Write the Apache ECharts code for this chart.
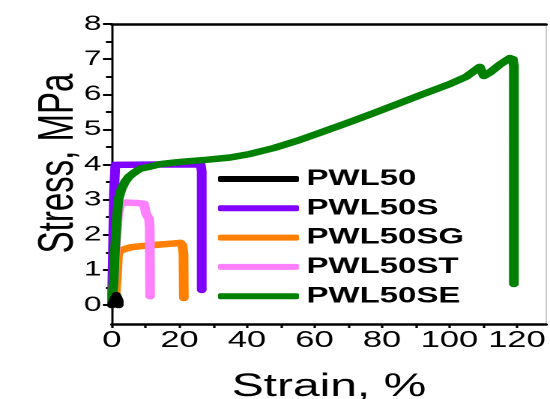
<!DOCTYPE html>
<html>
<head>
<meta charset="utf-8">
<script src="https://cdn.jsdelivr.net/npm/echarts@6/dist/echarts.min.js"></script>
<style>
  html, body { margin: 0; padding: 0; background: #fff; overflow: hidden; }
  #chart { width: 367px; height: 399px; transform-origin: 0 0; transform: scaleX(1.4986); }
</style>
</head>
<body>
<div id="chart"></div>
<script>
// ---- data (strain %, stress MPa) ----
const seriesNames = ['PWL50', 'PWL50S', 'PWL50SG', 'PWL50ST', 'PWL50SE'];
const seriesColors = ['#000000', '#8000ff', '#ff8000', '#ff80ff', '#008000'];

const pwl50X = [0, 0.6, 1.3, 1.8, 2.0, 2.0];
const pwl50Y = [0, 0.15, 0.28, 0.25, 0.12, 0];

const pwl50sX = [0, 0.3, 0.6, 1.0, 14, 26.3, 26.6, 26.6];
const pwl50sY = [0, 1.5, 3.2, 3.99, 4.0, 4.0, 3.8, 0.43];

const pwl50sgX = [0, 1.0, 1.5, 1.8, 2.5, 4, 6, 10, 14, 18, 20.3, 20.9, 21.2, 21.3];
const pwl50sgY = [0, 0.2, 0.9, 1.45, 1.55, 1.6, 1.65, 1.69, 1.72, 1.75, 1.77, 1.7, 1.45, 0.2];

const pwl50stX = [0, 0.6, 1.2, 1.8, 2.5, 4, 6, 8, 9.5, 9.9, 10.1, 10.6, 11.0, 11.2, 11.3];
const pwl50stY = [0, 0.8, 1.8, 2.6, 2.88, 2.92, 2.91, 2.9, 2.88, 2.84, 2.6, 2.52, 2.45, 2.2, 0.25];

const pwl50seX = [0, 0.5, 0.9, 1.4, 1.9, 2.8, 3.9, 5, 6.3, 8.3, 11.3, 14.2, 18, 21, 27.6, 35, 40.9, 48, 55.7, 63, 70.5, 78, 85.3, 92, 100.1, 105, 109, 110.2, 112, 115, 117.9, 118.8, 119.1, 119.1];
const pwl50seY = [0, 0.7, 1.57, 2.4, 3.0, 3.3, 3.51, 3.65, 3.75, 3.88, 3.94, 4.01, 4.05, 4.08, 4.13, 4.2, 4.3, 4.47, 4.70, 4.95, 5.21, 5.48, 5.75, 6.0, 6.29, 6.5, 6.78, 6.52, 6.62, 6.85, 7.03, 7.0, 6.8, 0.6];

const xTickLabels = [0, 20, 40, 60, 80, 100, 120];
const xTicks = [0, 10, 20, 30, 40, 50, 60, 70, 80, 90, 100, 110, 120];
const yTickLabels = [0, 1, 2, 3, 4, 5, 6, 7, 8];
const yMinorTicks = [0.5, 1.5, 2.5, 3.5, 4.5, 5.5, 6.5, 7.5];

const xs = [pwl50X, pwl50sX, pwl50sgX, pwl50stX, pwl50seX];
const ys = [pwl50Y, pwl50sY, pwl50sgY, pwl50stY, pwl50seY];
const zOrder = [5, 1, 2, 3, 4];

function pairs(x, y) { return x.map((v, i) => [v, y[i]]); }

const FONT = 'Liberation Sans, Arial, sans-serif';
const chart = echarts.init(document.getElementById('chart'), null, { renderer: 'canvas', devicePixelRatio: 2 });

const series = seriesNames.map((name, i) => ({
  name: name,
  type: 'line',
  data: pairs(xs[i], ys[i]),
  showSymbol: false,
  symbol: 'none',
  z: zOrder[i],
  xAxisIndex: 0,
  yAxisIndex: 0,
  lineStyle: { color: seriesColors[i], width: 6.5, cap: 'round', join: 'round' },
  itemStyle: { color: seriesColors[i] },
  animation: false
}));

chart.setOption({
  animation: false,
  backgroundColor: '#ffffff',
  grid: { left: 74.7, right: 2.7, top: 24, bottom: 75, containLabel: false, outerBoundsMode: 'none' },
  legend: {
    data: seriesNames,
    orient: 'vertical',
    left: 145.5,
    top: 168,
    padding: 0,
    icon: 'roundRect',
    itemWidth: 54,
    itemHeight: 6,
    itemGap: 7.3,
    textStyle: { fontFamily: FONT, fontSize: 22, fontWeight: 'bold', color: '#000', lineHeight: 20 },
    selectedMode: false
  },
  xAxis: [{
    type: 'value',
    min: 0,
    max: 128.6,
    name: 'Strain, %',
    nameLocation: 'middle',
    nameGap: 47,
    nameTextStyle: { fontFamily: FONT, fontSize: 32, color: '#000' },
    axisLine: { show: true, onZero: false, lineStyle: { color: '#000', width: 2.5 } },
    axisTick: { show: true, inside: false, length: 4, customValues: xTicks, lineStyle: { color: '#000', width: 1.6 } },
    axisLabel: { customValues: xTickLabels, margin: 5, fontFamily: FONT, fontSize: 23, color: '#000' },
    splitLine: { show: false }
  }, {
    type: 'value',
    position: 'top',
    min: 0,
    max: 128.6,
    axisLine: { show: true, onZero: false, lineStyle: { color: '#000', width: 2.5 } },
    axisTick: { show: false },
    axisLabel: { show: false },
    splitLine: { show: false }
  }],
  yAxis: [{
    type: 'value',
    min: -0.54,
    max: 8,
    name: 'Stress, MPa',
    nameLocation: 'middle',
    nameGap: 19,
    nameRotate: 90,
    nameMoveOverlap: false,
    nameTextStyle: { fontFamily: FONT, fontSize: 33, color: '#000', padding: [0, 0, 0, 21] },
    axisLine: { show: true, onZero: false, lineStyle: { color: '#000', width: 1.5 } },
    axisTick: { show: true, inside: false, length: 6, customValues: yTickLabels, lineStyle: { color: '#000', width: 2 } },
    axisLabel: { customValues: yTickLabels, margin: 7, fontFamily: FONT, fontSize: 21, color: '#000' },
    splitLine: { show: false }
  }, {
    type: 'value',
    position: 'left',
    min: -0.54,
    max: 8,
    axisLine: { show: false },
    axisTick: { show: true, inside: false, length: 4, customValues: yMinorTicks, lineStyle: { color: '#000', width: 2 } },
    axisLabel: { show: false },
    splitLine: { show: false }
  }, {
    type: 'value',
    position: 'right',
    min: -0.54,
    max: 8,
    axisLine: { show: true, onZero: false, lineStyle: { color: '#cccccc', width: 1 } },
    axisTick: { show: false },
    axisLabel: { show: false },
    splitLine: { show: false }
  }],
  series: series
});
</script>
</body>
</html>
